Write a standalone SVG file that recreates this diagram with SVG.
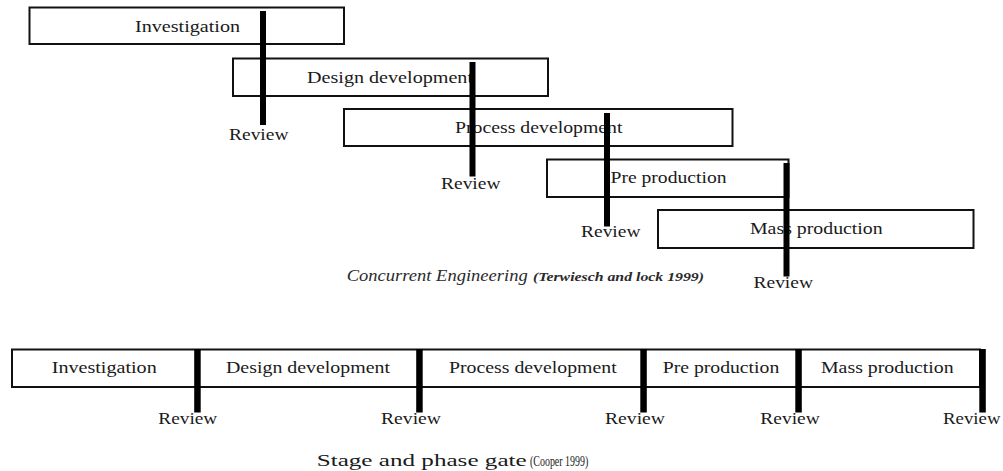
<svg xmlns="http://www.w3.org/2000/svg" width="1003" height="471" viewBox="0 0 1003 471">
  <style>
    .box { fill: #ffffff; stroke: #111111; stroke-width: 2; }
    .gate { fill: #000000; }
    .lbl { font-family: "Liberation Serif", "Times New Roman", serif; font-size: 17.5px; fill: #1a1a1a; }
    .cap { font-family: "Liberation Serif", "Times New Roman", serif; font-style: italic; font-size: 17px; fill: #2a2a2a; }
    .ref { font-family: "Liberation Serif", "Times New Roman", serif; font-style: italic; font-weight: bold; font-size: 12.5px; fill: #2a2a2a; }
    .refn { font-family: "Liberation Serif", "Times New Roman", serif; font-size: 14px; fill: #1a1a1a; }
  </style>
  <rect width="1003" height="471" fill="#ffffff"/>

  <!-- Concurrent engineering: overlapping stages -->
  <g id="ce-investigation">
    <rect class="box" x="29.5" y="7.5" width="314.5" height="36.5"/>
    <text class="lbl" x="135" y="32" textLength="105" lengthAdjust="spacingAndGlyphs">Investigation</text>
  </g>
  <g id="ce-design">
    <rect class="box" x="233" y="58.5" width="315" height="37.5"/>
    <text class="lbl" x="307" y="83" textLength="166" lengthAdjust="spacingAndGlyphs">Design development</text>
  </g>
  <g id="ce-process">
    <rect class="box" x="344" y="109" width="388.5" height="37"/>
    <text class="lbl" x="455" y="133" textLength="167.5" lengthAdjust="spacingAndGlyphs">Process development</text>
  </g>
  <g id="ce-preproduction">
    <rect class="box" x="547" y="159.5" width="241.5" height="37.5"/>
    <text class="lbl" x="610.5" y="183.3" textLength="116" lengthAdjust="spacingAndGlyphs">Pre production</text>
  </g>
  <g id="ce-mass">
    <rect class="box" x="658" y="210" width="315.5" height="38"/>
    <text class="lbl" x="750" y="234" textLength="132.7" lengthAdjust="spacingAndGlyphs">Mass production</text>
  </g>

  <!-- Review gates crossing the overlapping stages -->
  <g id="ce-gates">
    <rect class="gate" x="260" y="11" width="6" height="114"/>
    <rect class="gate" x="469.5" y="62" width="6" height="114.5"/>
    <rect class="gate" x="604" y="113" width="6" height="113.5"/>
    <rect class="gate" x="783.5" y="163" width="6" height="113.5"/>
    <text class="lbl" x="229" y="140" textLength="59.5" lengthAdjust="spacingAndGlyphs">Review</text>
    <text class="lbl" x="441" y="188.5" textLength="59.5" lengthAdjust="spacingAndGlyphs">Review</text>
    <text class="lbl" x="581" y="237" textLength="59.5" lengthAdjust="spacingAndGlyphs">Review</text>
    <text class="lbl" x="753.5" y="288" textLength="59.5" lengthAdjust="spacingAndGlyphs">Review</text>
  </g>

  <g id="ce-caption">
    <text class="cap" x="346.7" y="281" textLength="181" lengthAdjust="spacingAndGlyphs">Concurrent Engineering</text>
    <text class="ref" x="533" y="281" textLength="171" lengthAdjust="spacingAndGlyphs">(Terwiesch and lock 1999)</text>
  </g>

  <!-- Stage and phase gate: sequential stages -->
  <g id="sg-strip">
    <rect class="box" x="12" y="349.5" width="968" height="37.5"/>
  </g>
  <g id="sg-investigation">
    <text class="lbl" x="51.7" y="373.3" textLength="105" lengthAdjust="spacingAndGlyphs">Investigation</text>
  </g>
  <g id="sg-design">
    <text class="lbl" x="226" y="373.3" textLength="164" lengthAdjust="spacingAndGlyphs">Design development</text>
  </g>
  <g id="sg-process">
    <text class="lbl" x="449" y="373.3" textLength="167.7" lengthAdjust="spacingAndGlyphs">Process development</text>
  </g>
  <g id="sg-preproduction">
    <text class="lbl" x="662.7" y="373.3" textLength="116.6" lengthAdjust="spacingAndGlyphs">Pre production</text>
  </g>
  <g id="sg-mass">
    <text class="lbl" x="821" y="373.3" textLength="132.7" lengthAdjust="spacingAndGlyphs">Mass production</text>
  </g>

  <g id="sg-gates">
    <rect class="gate" x="194.2" y="349" width="6.5" height="63.5"/>
    <rect class="gate" x="416.2" y="349" width="6.5" height="63.5"/>
    <rect class="gate" x="640.3" y="349" width="6.5" height="63.5"/>
    <rect class="gate" x="795.3" y="349" width="6.5" height="63.5"/>
    <rect class="gate" x="979.3" y="349" width="6.5" height="63.5"/>
    <text class="lbl" x="158.3" y="424" textLength="59" lengthAdjust="spacingAndGlyphs">Review</text>
    <text class="lbl" x="381" y="424" textLength="60" lengthAdjust="spacingAndGlyphs">Review</text>
    <text class="lbl" x="605" y="424" textLength="60" lengthAdjust="spacingAndGlyphs">Review</text>
    <text class="lbl" x="760.3" y="424" textLength="59.5" lengthAdjust="spacingAndGlyphs">Review</text>
    <text class="lbl" x="943" y="424" textLength="57.5" lengthAdjust="spacingAndGlyphs">Review</text>
  </g>

  <g id="sg-caption">
    <text class="lbl" x="316.7" y="466" textLength="210" lengthAdjust="spacingAndGlyphs">Stage and phase gate</text>
    <text class="refn" x="530" y="466" textLength="58.3" lengthAdjust="spacingAndGlyphs">(Cooper 1999)</text>
  </g>
</svg>
